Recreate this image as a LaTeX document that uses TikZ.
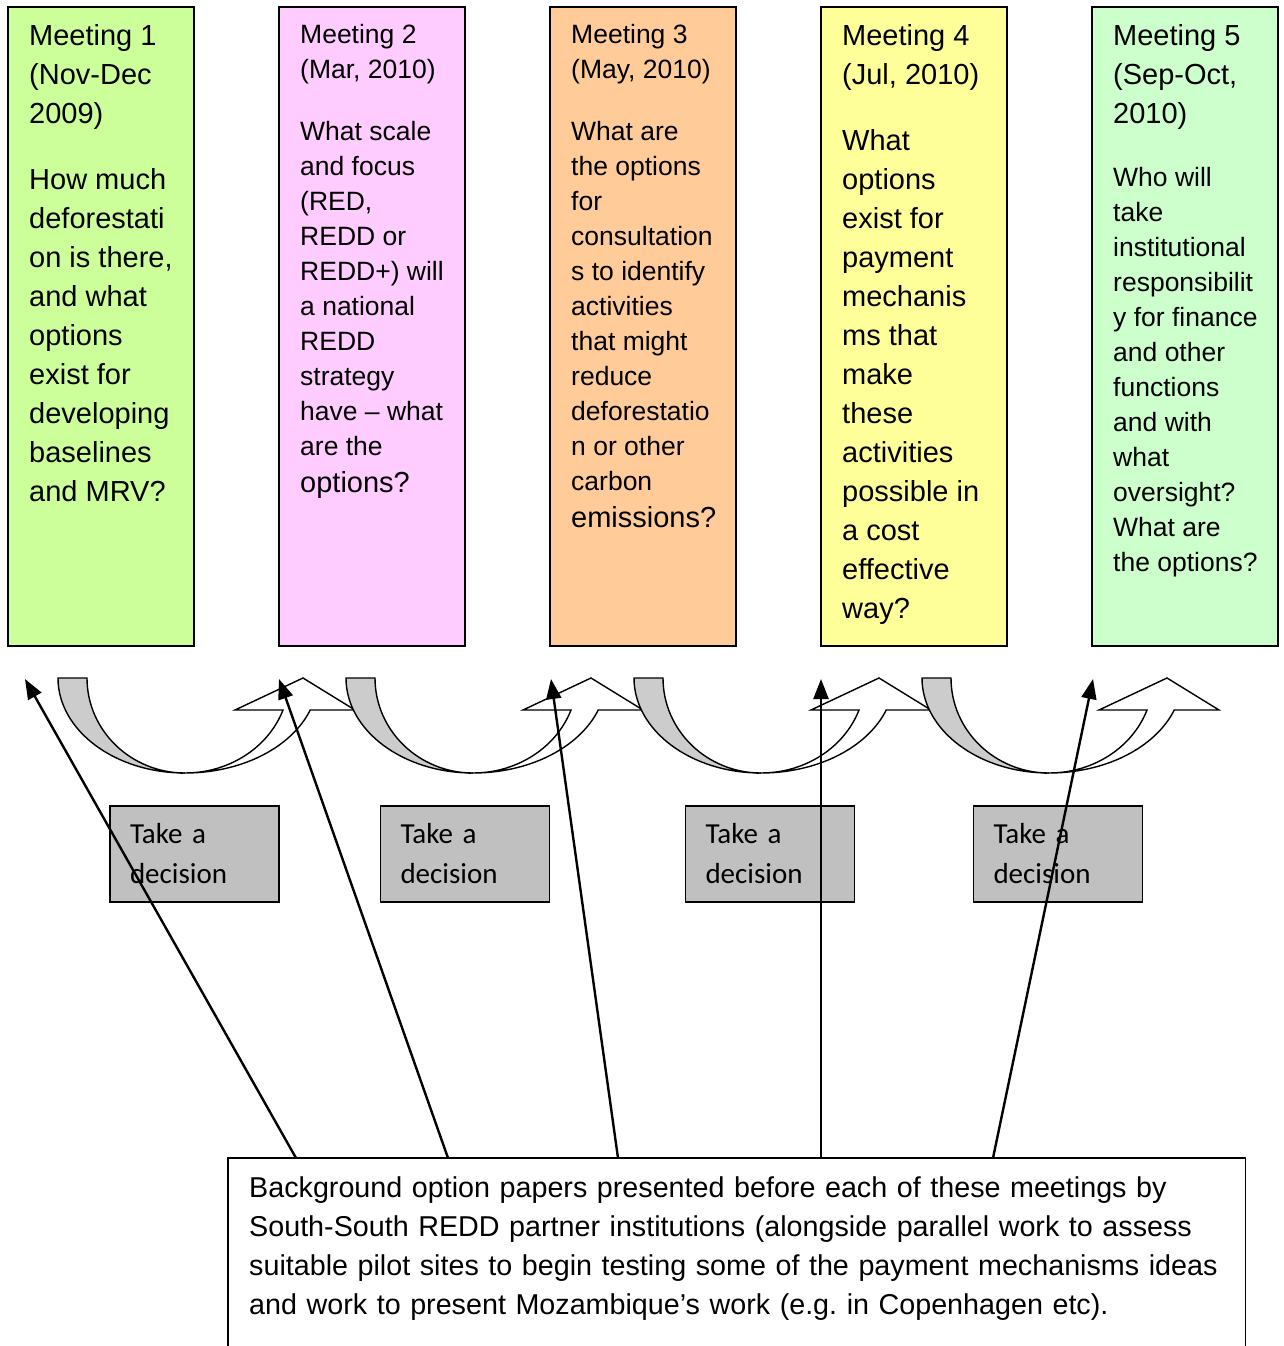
\documentclass[tikz,border=0pt]{standalone}
\usepackage{fontspec}
\setmainfont{Liberation Sans}
\newfontfamily\decisionfont{Carlito}
\usetikzlibrary{arrows.meta}
\frenchspacing
\definecolor{decisiongray}{HTML}{C0C0C0}
\definecolor{tailgray}{HTML}{CCCCCC}
\tikzset{
  meetbox/.style={draw=black, line width=1.8pt},
  meettext/.style={anchor=north west, inner sep=0pt, align=left, font=\fontsize{29}{39}\selectfont},
  smalltext/.style={meettext, font=\fontsize{26.5}{35}\selectfont},
  decision/.style={draw=black, line width=1.8pt, fill=decisiongray, text width=129pt, inner xsep=20pt, inner ysep=0pt, minimum height=96pt, align=left, font=\decisionfont\fontsize{29}{40}\selectfont},
  papertext/.style={anchor=north west, text width=975pt, inner xsep=21pt, inner ysep=18pt, align=left, font=\fontsize{28.7}{39}\selectfont},
  backface/.style={draw=black, line width=1.4pt, fill=tailgray},
  frontface/.style={draw=black, line width=1.4pt, fill=white},
  feeder/.style={draw=black, line width=2.4pt, -{Triangle[length=20pt,width=15pt]}}
}
\begin{document}
\begin{tikzpicture}[x=1pt, y=-1pt]
\useasboundingbox (0,0) rectangle (1284,1346);
\pgfmathsetmacro\turn{288};
% the five meetings
\definecolor{boxcolor}{HTML}{CCFF99}
\draw[meetbox, fill=boxcolor] (8,7) rectangle (194,646);
\node[meettext] (m1) at (29,24) {Meeting 1\\(Nov-Dec\\2009)\\[27pt]How much\\deforestati\\on is there,\\and what\\options\\exist for\\developing\\baselines\\and MRV?};
\definecolor{boxcolor}{HTML}{FFCCFF}
\draw[meetbox, fill=boxcolor] (279,7) rectangle (465,646);
\node[smalltext] (m2) at (300,24) {Meeting 2\\(Mar, 2010)\\[27pt]What scale\\and focus\\(RED,\\REDD or\\REDD+) will\\a national\\REDD\\strategy\\have – what\\are the\\[2pt]\fontsize{29}{39}\selectfont options?};
\definecolor{boxcolor}{HTML}{FFCC99}
\draw[meetbox, fill=boxcolor] (550,7) rectangle (736,646);
\node[smalltext] (m3) at (571,24) {Meeting 3\\(May, 2010)\\[27pt]What are\\the options\\for\\consultation\\s to identify\\activities\\that might\\reduce\\deforestatio\\n or other\\carbon\\[2pt]\fontsize{29}{39}\selectfont emissions?};
\definecolor{boxcolor}{HTML}{FFFF99}
\draw[meetbox, fill=boxcolor] (821,7) rectangle (1007,646);
\node[meettext] (m4) at (842,24) {Meeting 4\\(Jul, 2010)\\[27pt]What\\options\\exist for\\payment\\mechanis\\ms that\\make\\these\\activities\\possible in\\a cost\\effective\\way?};
\definecolor{boxcolor}{HTML}{CCFFCC}
\draw[meetbox, fill=boxcolor] (1092,7) rectangle (1278,646);
\node[meettext] (m5) at (1113,24) {Meeting 5\\(Sep-Oct,\\2010)};
\node[smalltext] (m5q) at (1113,167) {Who will\\take\\institutional\\responsibilit\\y for finance\\and other\\functions\\and with\\what\\oversight?\\What are\\the options?};
% curved arrows between meetings
\foreach \k in {0,...,3} {
  \begin{scope}[xshift=\k*\turn pt]
  \draw[backface] (58,678) arc[start angle=180, end angle=90, x radius=127, y radius=95] arc[start angle=90, end angle=180, x radius=98, y radius=95] -- cycle;
  \draw[frontface] (185,773) arc[start angle=90, end angle=19.7, x radius=133, y radius=95] -- (355,710) -- (303,678) -- (235,710) -- (283,710) arc[start angle=19.7, end angle=90, x radius=104, y radius=95] -- cycle;
  \end{scope}
}
\node[decision] (d1) at (194.5,854) {Take a\\decision};
\node[decision] (d2) at (465,854) {Take a\\decision};
\node[decision] (d3) at (770,854) {Take a\\decision};
\node[decision] (d4) at (1058,854) {Take a\\decision};
% background papers
\node[papertext] (papers) at (228,1158) {Background option papers presented before each of these meetings by\\South-South REDD partner institutions (alongside parallel work to assess\\suitable pilot sites to begin testing some of the payment mechanisms ideas\\and work to present Mozambique’s work (e.g. in Copenhagen etc).};
\draw[meetbox] (papers.north west |- 0,1346) -- (papers.north west) -- (papers.north east) -- (papers.north east |- 0,1346);
\coordinate (tip1) at (25,679);
\coordinate (tip2) at (279,679);
\coordinate (tip3) at (551,679);
\coordinate (tip4) at (821,679);
\coordinate (tip5) at (1093,679);
\draw[feeder] ([xshift=68pt]papers.north west) -- (tip1);
\draw[feeder] ([xshift=220pt]papers.north west) -- (tip2);
\draw[feeder] ([xshift=390pt]papers.north west) -- (tip3);
\draw[feeder] ([xshift=593pt]papers.north west) -- (tip4);
\draw[feeder] ([xshift=765pt]papers.north west) -- (tip5);
\end{tikzpicture}
\end{document}
